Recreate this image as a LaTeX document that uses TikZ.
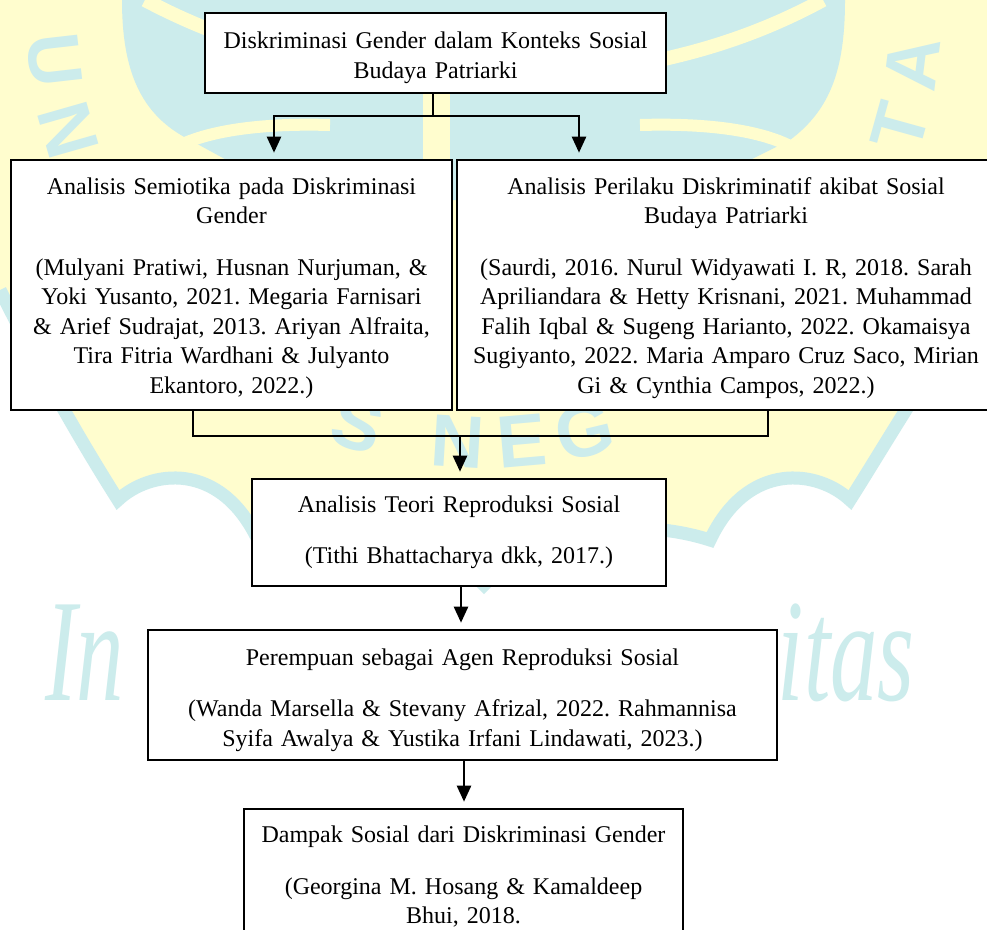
\documentclass[tikz,border=0pt]{standalone}
\usepackage{fontspec}
\setmainfont{Liberation Serif}
\newfontfamily\wmsans{Liberation Sans}
\usetikzlibrary{arrows.meta}
\definecolor{wmY}{RGB}{255,253,206}
\definecolor{wmC}{RGB}{204,236,236}
\frenchspacing
\begin{document}
\begin{tikzpicture}[x=1pt,y=1pt,
  box/.style={draw=black, line width=2.6pt, fill=white, inner sep=0pt, align=center,
              font=\fontsize{24}{29.5}\selectfont},
  conn/.style={line width=2.4pt, draw=black},
  arr/.style={conn, -{Triangle[width=14pt,length=16pt]}, shorten >=6pt},
  wmband/.style={line width=#1, draw=wmY},
  wmletter/.style={inner sep=0pt, text=wmC, font=\wmsans\bfseries\fontsize{74}{74}\selectfont},
  wmmotto/.style={inner sep=0pt, text=wmC},
]
\useasboundingbox (0,0) rectangle (987,-929);
\clip (0,0) rectangle (987,-929);
\fill[white] (0,0) rectangle (987,-929);

% ---------- watermark ----------
\fill[wmY] (0,0) -- (0,-290)
  .. controls (40,-370) and (80,-440) .. (118,-500)
  .. controls (150,-470) and (220,-460) .. (258,-540)
  .. controls (320,-520) and (420,-520) .. (484,-585)
  .. controls (548,-520) and (648,-520) .. (710,-540)
  .. controls (748,-460) and (818,-470) .. (850,-500)
  .. controls (888,-440) and (928,-370) .. (987,-290)
  -- (987,0) -- cycle;
\fill[wmC] (122,0) .. controls (122,-70) and (140,-115) .. (190,-140)
  -- (300,-200) -- (670,-200) -- (790,-140)
  .. controls (830,-110) and (845,-70) .. (845,0) -- cycle;
\draw[wmband=14pt] (145,0) .. controls (230,-45) and (330,-75) .. (484,-80)
  .. controls (640,-75) and (740,-45) .. (823,0);
\draw[wmband=12pt] (150,-175) .. controls (160,-140) and (230,-122) .. (330,-125);
\draw[wmband=12pt] (640,-125) .. controls (740,-122) and (808,-140) .. (818,-175);
\fill[wmY] (423,-93) rectangle (450,-160);
\draw[line width=13pt, draw=wmC] (0,-290)
  .. controls (40,-370) and (80,-440) .. (118,-500)
  .. controls (150,-470) and (220,-460) .. (258,-540)
  .. controls (320,-520) and (420,-520) .. (484,-585)
  .. controls (548,-520) and (648,-520) .. (710,-540)
  .. controls (748,-460) and (818,-470) .. (850,-500)
  .. controls (888,-440) and (928,-370) .. (987,-290);
\foreach \ch/\ang [count=\i] in {U/186.5, N/196, S/253, N/266.5, E/275, G/283.5, T/344.5, A/353}
  \node[wmletter, rotate=\ang+90] (wl\i) at ([shift={(484,-11)}]\ang:432) {\ch};
\node[wmmotto, anchor=base west] (mottoL) at (45,-700)
  {\scalebox{0.65}[1]{\fontsize{146}{146}\selectfont\itshape In}};
\node[wmmotto, anchor=base east] (mottoR) at (915,-700)
  {\scalebox{0.65}[1]{\fontsize{146}{146}\selectfont\itshape itas}};

% ---------- diagram ----------
\node[box, minimum width=461pt, minimum height=80pt, text width=450pt] (A) at (435.5,-53)
  {\rule{0pt}{26pt}Diskriminasi Gender dalam Konteks Sosial\\Budaya Patriarki};
\node[box, minimum width=441pt, minimum height=250pt, text width=430pt] (B) at (231.5,-285)
  {\rule{0pt}{22.5pt}Analisis Semiotika pada Diskriminasi\\Gender\\[22pt]
   (Mulyani Pratiwi, Husnan Nurjuman, \&\\Yoki Yusanto, 2021. Megaria Farnisari\\
   \& Arief Sudrajat, 2013. Ariyan Alfraita,\\Tira Fitria Wardhani \& Julyanto\\
   Ekantoro, 2022.)};
\node[box, minimum width=538pt, minimum height=250pt, text width=528pt] (C) at (726,-285)
  {\rule{0pt}{22.5pt}Analisis Perilaku Diskriminatif akibat Sosial\\Budaya Patriarki\\[22pt]
   (Saurdi, 2016. Nurul Widyawati I. R, 2018. Sarah\\
   Apriliandara \& Hetty Krisnani, 2021. Muhammad\\
   Falih Iqbal \& Sugeng Harianto, 2022. Okamaisya\\
   Sugiyanto, 2022. Maria Amparo Cruz Saco, Mirian\\
   Gi \& Cynthia Campos, 2022.)};
\node[box, minimum width=414pt, minimum height=107pt, text width=404pt] (D) at (459,-532.5)
  {Analisis Teori Reproduksi Sosial\\[22pt](Tithi Bhattacharya dkk, 2017.)};
\node[box, minimum width=629pt, minimum height=130pt, text width=619pt] (E) at (462.5,-695)
  {\rule{0pt}{27pt}Perempuan sebagai Agen Reproduksi Sosial\\[22pt]
   (Wanda Marsella \& Stevany Afrizal, 2022. Rahmannisa\\
   Syifa Awalya \& Yustika Irfani Lindawati, 2023.)};
\node[box, minimum width=439pt, minimum height=136pt, text width=429pt] (F) at (463.5,-877)
  {Dampak Sosial dari Diskriminasi Gender\\[22pt]
   (Georgina M. Hosang \& Kamaldeep\\Bhui, 2018.};

% connectors
\coordinate (j1) at (433,-116);
\draw[conn] (A.south -| j1) -- (j1);
\draw[arr] (j1) -| ([xshift=42.5pt]B.north);
\draw[arr] (j1) -| ([xshift=-147pt]C.north);
\coordinate (j2) at (460,-436);
\draw[conn] ([xshift=-38.5pt]B.south) |- (j2) -| ([xshift=42pt]C.south);
\draw[arr] (j2) -- (j2 |- D.north);
\draw[arr] ([xshift=2pt]D.south) -- ([xshift=2pt]D.south |- E.north);
\draw[arr] ([xshift=1.5pt]E.south) -- ([xshift=1.5pt]E.south |- F.north);
\end{tikzpicture}
\end{document}
